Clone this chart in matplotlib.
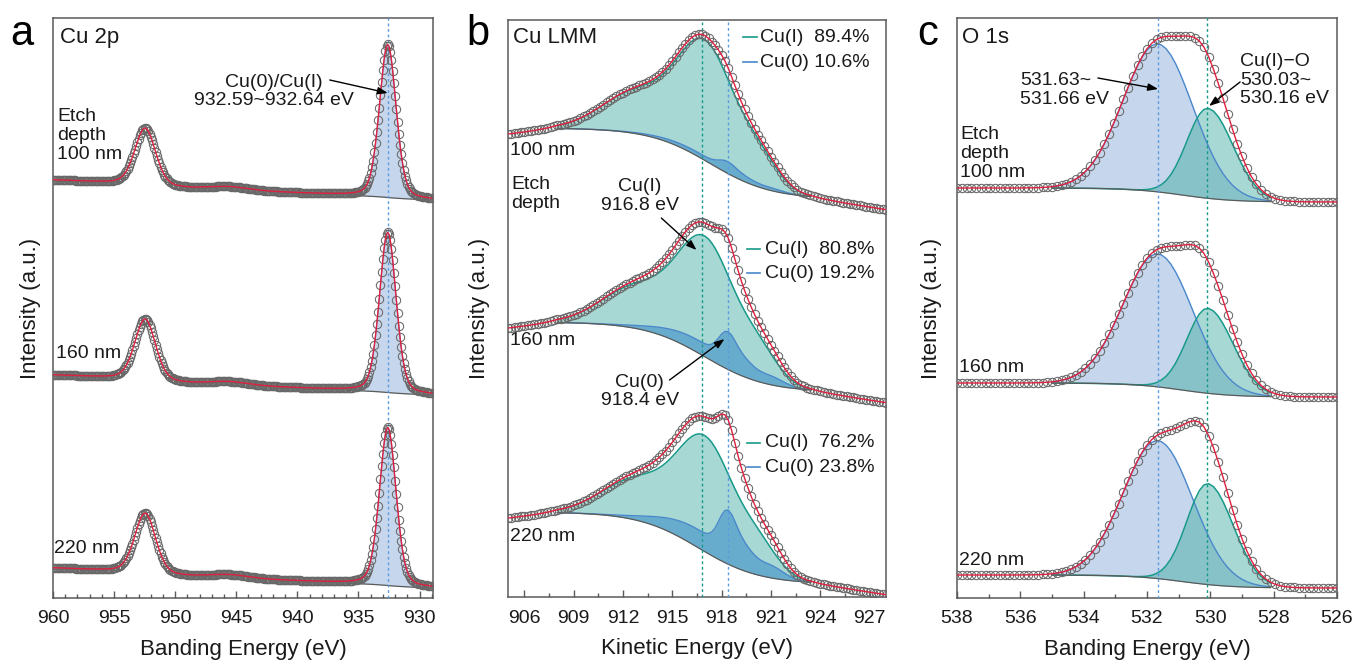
'''XPS depth profile: Cu 2p, Cu LMM and O 1s fits'''

import numpy as np
import matplotlib.pyplot as plt
from matplotlib.ticker import MultipleLocator

plt.rcParams['font.family'] = ['Liberation Sans', 'DejaVu Sans']

# ---------------- values ----------------
depth_labels = ['100 nm', '160 nm', '220 nm']

# (a) Cu 2p  (binding energy, fitted peaks on a sloped background)
cu2p_energy = np.arange(929.0, 960.01, 0.1)
cu2p_offset = [398, 203, 10]
cu2p_slope = 0.55
cu2p_p32_pos = 932.6
cu2p_p12_pos = 952.45
cu2p_p32_height = [153, 160, 158]
cu2p_p12_height = [57, 61, 60]
cu2p_p32_fwhm = 1.6
cu2p_p12_fwhm = 2.0
cu2p_fit_range = (929.0, 936.0)

# (b) Cu LMM  (kinetic energy)
lmm_energy = np.arange(905.0, 928.01, 0.2)
lmm_bg_high = [469, 275, 85]
lmm_bg_low = [398, 205, 13]
lmm_bg_mid = [917.3, 917.0, 916.6]
cu1_peaks = [(913.0, 40, 2.2), (917.1, 108, 1.7), (920.3, 26, 1.2)]   # centre, height, sigma
cu0_peaks = [(916.5, 18, 2.2), (918.3, 33, 0.5), (919.2, 18, 0.7), (921.0, 10, 0.8)]
cu1_scale = [1.04, 1.04, 1.0]
cu0_scale = [0.22, 0.7, 1.0]
cu1_share = [89.4, 80.8, 76.2]
cu0_share = [10.6, 19.2, 23.8]
lmm_fit_range = (908.0, 923.5)
cu1_line_pos = 916.8
cu0_line_pos = 918.4

# (c) O 1s  (binding energy)
o1s_energy = np.arange(526.0, 538.01, 0.15)
o1s_bg_high = [410, 215, 23]
o1s_bg_low = [396, 201, 10]
o_high_pos = 531.65
o_cu_pos = 530.08
o_high_height = [148, 133, 138]
o_cu_height = [90, 85, 101]
o_high_sigma = 1.1
o_cu_sigma_low_be = 0.8
o_cu_sigma_high_be = 0.66
o1s_fit_range = (528.0, 535.0)

# ---------------- styles ----------------
RED = '#e0203f'
TEAL = '#17998a'
BLUE = '#4a88cb'
GREY = '#5a5a5a'
FILL_BLUE = '#c6d6ec'
FILL_TEAL = '#3caaa0'
FILL_CU0 = '#2a82c8'
TXT = '#1a1a1a'


def gauss(x, c, h, s):
    return h * np.exp(-(x - c) ** 2 / (2 * s ** 2))


def gauss_asym(x, c, h, s_below, s_above):
    s = np.where(x < c, s_below, s_above)
    return h * np.exp(-(x - c) ** 2 / (2 * s ** 2))


def pvoigt(x, c, h, fwhm, eta):
    t = (x - c) ** 2 / fwhm ** 2
    return h * ((1 - eta) * np.exp(-4 * np.log(2) * t) + eta / (1 + 4 * t))


def sig(x, c, w):
    return 1.0 / (1.0 + np.exp(-(x - c) / w))


def data_points(ax, x, y, ms):
    ax.plot(x, y, 'o', ms=ms, mfc='none', mec='#686868', mew=0.75, zorder=4)
    ax.plot(x, y, color=RED, lw=1.0, zorder=5)


def style_axis(ax, xlim, ylim, major, minor, xlabel):
    ax.set_xlim(*xlim)
    ax.set_ylim(*ylim)
    ax.set_yticks([])
    ax.xaxis.set_major_locator(MultipleLocator(major))
    ax.xaxis.set_minor_locator(MultipleLocator(minor))
    ax.tick_params(axis='x', which='major', direction='in', length=5, width=1,
                   labelsize=14, pad=9, colors=GREY, labelcolor=TXT)
    ax.tick_params(axis='x', which='minor', direction='in', length=3, width=1, colors=GREY)
    for s in ax.spines.values():
        s.set_color(GREY)
        s.set_linewidth(1.1)
    ax.set_xlabel(xlabel, fontsize=16, labelpad=8, color=TXT)
    ax.set_ylabel('Intensity (a.u.)', fontsize=16, color=TXT)


def arrow(ax, tail, head):
    ax.annotate('', xy=head, xytext=tail,
                arrowprops=dict(arrowstyle='-|>,head_length=0.6,head_width=0.22',
                                color='k', lw=1.0, shrinkA=0, shrinkB=0), zorder=6)


fig = plt.figure(figsize=(13.53, 6.6), dpi=100)
ax_a = fig.add_axes([0.03917, 0.09394, 0.28086, 0.87879])
ax_b = fig.add_axes([0.37546, 0.09545, 0.27938, 0.87424])
ax_c = fig.add_axes([0.70732, 0.09394, 0.28086, 0.87879])

# ---------------- (a) Cu 2p ----------------
E = cu2p_energy
for i in range(3):
    bg = (cu2p_offset[i] + cu2p_slope * (E - E.min())
          + 1.0 * sig(E, cu2p_p32_pos, 0.5) + 2.0 * sig(E, cu2p_p12_pos, 0.5)
          + gauss(E, 945.5, 3, 1.5))
    p32 = pvoigt(E, cu2p_p32_pos, cu2p_p32_height[i], cu2p_p32_fwhm, 0.25)
    p12 = pvoigt(E, cu2p_p12_pos, cu2p_p12_height[i], cu2p_p12_fwhm, 0.25)
    m = (E >= cu2p_fit_range[0]) & (E <= cu2p_fit_range[1])
    ax_a.fill_between(E[m], bg[m], bg[m] + p32[m], color=FILL_BLUE, lw=0, zorder=1)
    ax_a.plot(E[m], bg[m] + p32[m], color=BLUE, lw=0.8, zorder=2)
    ax_a.plot(E[m], bg[m], color=GREY, lw=0.9, zorder=2)
    data_points(ax_a, E, bg + p32 + p12, 6)
ax_a.axvline(cu2p_p32_pos, color='#5b9be0', ls=(0, (2, 2)), lw=1.0, zorder=3)
style_axis(ax_a, (960, 928.9), (0, 580), 5, 1, 'Banding Energy (eV)')
ax_a.yaxis.set_label_coords(-0.032, 0.5)

ax_a.text(0.018, 0.967, 'Cu 2p', transform=ax_a.transAxes, fontsize=16, va='center', color=TXT)
ax_a.text(0.011, 0.797, 'Etch\ndepth\n' + depth_labels[0], transform=ax_a.transAxes,
          fontsize=14, va='center', linespacing=1.15, color=TXT)
ax_a.text(0.008, 0.422, depth_labels[1], transform=ax_a.transAxes, fontsize=14, va='center', color=TXT)
ax_a.text(0.003, 0.086, depth_labels[2], transform=ax_a.transAxes, fontsize=14, va='center', color=TXT)
ax_a.text(0.582, 0.873, 'Cu(0)/Cu(I)\n932.59~932.64 eV', transform=ax_a.transAxes,
          fontsize=14, ha='center', va='center', linespacing=1.1, color=TXT)
arrow(ax_a, (937.35, 518), (932.6, 505))

# ---------------- (b) Cu LMM ----------------
E = lmm_energy
m = (E >= lmm_fit_range[0]) & (E <= lmm_fit_range[1])
legend_rows = [(0.970, 0.927, 0.622, 0.659, 0.667),
               (0.603, 0.5615, 0.632, 0.667, 0.680),
               (0.267, 0.225, 0.632, 0.667, 0.680)]
for i in range(3):
    bg = (lmm_bg_low[i] + (lmm_bg_high[i] - lmm_bg_low[i]) * (1 - sig(E, lmm_bg_mid[i], 1.85))
          - 2.0 * np.clip(lmm_fit_range[0] - E, 0, None)
          - 2.4 * np.clip(E - lmm_fit_range[1], 0, None))
    cu1 = cu1_scale[i] * sum(gauss(E, c, h, s) for c, h, s in cu1_peaks)
    cu0 = cu0_scale[i] * sum(gauss(E, c, h, s) for c, h, s in cu0_peaks)
    ax_b.fill_between(E[m], bg[m], bg[m] + cu1[m], color=FILL_TEAL, alpha=0.45, lw=0, zorder=1)
    ax_b.fill_between(E[m], bg[m], bg[m] + cu0[m], color=FILL_CU0, alpha=0.5, lw=0, zorder=1)
    ax_b.plot(E[m], bg[m] + cu1[m], color=TEAL, lw=1.1, zorder=2)
    ax_b.plot(E[m], bg[m] + cu0[m], color=BLUE, lw=1.0, zorder=2)
    ax_b.plot(E[m], bg[m], color=GREY, lw=0.9, zorder=2)
    data_points(ax_b, E, bg + cu1 + cu0, 6)

    y1, y2, lx0, lx1, tx = legend_rows[i]
    ax_b.plot([lx0, lx1], [y1, y1], color=TEAL, lw=1.2, transform=ax_b.transAxes)
    ax_b.plot([lx0, lx1], [y2, y2], color=BLUE, lw=1.2, transform=ax_b.transAxes)
    ax_b.text(tx, y1, f'Cu(I)  {cu1_share[i]:.1f}%', transform=ax_b.transAxes,
              fontsize=14, va='center', color=TXT)
    ax_b.text(tx, y2, f'Cu(0) {cu0_share[i]:.1f}%', transform=ax_b.transAxes,
              fontsize=14, va='center', color=TXT)
ax_b.axvline(cu1_line_pos, color=TEAL, ls=(0, (2, 2)), lw=1.0, zorder=3)
ax_b.axvline(cu0_line_pos, color='#5b9be0', ls=(0, (2, 2)), lw=1.0, zorder=3)
style_axis(ax_b, (905.0, 928.0), (0, 577), 3, 1.5, 'Kinetic Energy (eV)')
ax_b.yaxis.set_label_coords(-0.047, 0.5)

ax_b.text(0.013, 0.970, 'Cu LMM', transform=ax_b.transAxes, fontsize=16, va='center', color=TXT)
ax_b.text(0.005, 0.773, depth_labels[0], transform=ax_b.transAxes, fontsize=14, va='center', color=TXT)
ax_b.text(0.008, 0.699, 'Etch\ndepth', transform=ax_b.transAxes, fontsize=14,
          va='center', linespacing=1.15, color=TXT)
ax_b.text(0.005, 0.444, depth_labels[1], transform=ax_b.transAxes, fontsize=14, va='center', color=TXT)
ax_b.text(0.005, 0.104, depth_labels[2], transform=ax_b.transAxes, fontsize=14, va='center', color=TXT)
ax_b.text(0.349, 0.695, 'Cu(I)\n916.8 eV', transform=ax_b.transAxes, fontsize=14,
          ha='center', va='center', linespacing=1.1, color=TXT)
ax_b.text(0.349, 0.356, 'Cu(0)\n918.4 eV', transform=ax_b.transAxes, fontsize=14,
          ha='center', va='center', linespacing=1.1, color=TXT)
arrow(ax_b, (914.33, 379), (916.47, 347))
arrow(ax_b, (914.83, 217), (918.17, 258))

# ---------------- (c) O 1s ----------------
E = o1s_energy
m = (E >= o1s_fit_range[0]) & (E <= o1s_fit_range[1])
for i in range(3):
    bg = o1s_bg_low[i] + (o1s_bg_high[i] - o1s_bg_low[i]) * sig(E, 530.9, 0.8)
    oh = gauss(E, o_high_pos, o_high_height[i], o_high_sigma)
    oc = gauss_asym(E, o_cu_pos, o_cu_height[i], o_cu_sigma_low_be, o_cu_sigma_high_be)
    ax_c.fill_between(E[m], bg[m], bg[m] + oh[m], color=FILL_BLUE, lw=0, zorder=1)
    ax_c.fill_between(E[m], bg[m], bg[m] + oc[m], color=FILL_TEAL, alpha=0.45, lw=0, zorder=1)
    ax_c.plot(E[m], bg[m] + oh[m], color=BLUE, lw=1.0, zorder=2)
    ax_c.plot(E[m], bg[m] + oc[m], color=TEAL, lw=1.1, zorder=2)
    ax_c.plot(E[m], bg[m], color=GREY, lw=0.9, zorder=2)
    data_points(ax_c, E, bg + oh + oc, 6)
ax_c.axvline(o_high_pos, color='#5b9be0', ls=(0, (2, 2)), lw=1.0, zorder=3)
ax_c.axvline(530.1, color=TEAL, ls=(0, (2, 2)), lw=1.0, zorder=3)
style_axis(ax_c, (538, 526), (0, 580), 2, 1, 'Banding Energy (eV)')
ax_c.yaxis.set_label_coords(-0.040, 0.5)

ax_c.text(0.013, 0.967, 'O 1s', transform=ax_c.transAxes, fontsize=16, va='center', color=TXT)
ax_c.text(0.008, 0.766, 'Etch\ndepth\n' + depth_labels[0], transform=ax_c.transAxes,
          fontsize=14, va='center', linespacing=1.15, color=TXT)
ax_c.text(0.005, 0.398, depth_labels[1], transform=ax_c.transAxes, fontsize=14, va='center', color=TXT)
ax_c.text(0.005, 0.0655, depth_labels[2], transform=ax_c.transAxes, fontsize=14, va='center', color=TXT)
ax_c.text(0.166, 0.876, '531.63~\n531.66 eV', transform=ax_c.transAxes, fontsize=14,
          ha='left', va='center', linespacing=1.1, color=TXT)
ax_c.text(0.745, 0.893, 'Cu(I)\u2212O\n530.03~\n530.16 eV', transform=ax_c.transAxes,
          fontsize=14, ha='left', va='center', linespacing=1.1, color=TXT)
arrow(ax_c, (533.55, 520), (531.65, 509))
arrow(ax_c, (529.06, 516), (530.04, 492))

# panel letters
for x, letter in [(10, 'a'), (466, 'b'), (917, 'c')]:
    fig.text(x / 1353, 1 - 45 / 660, letter, fontsize=30, va='baseline', color='k')

fig.savefig('out.png', dpi=100)
